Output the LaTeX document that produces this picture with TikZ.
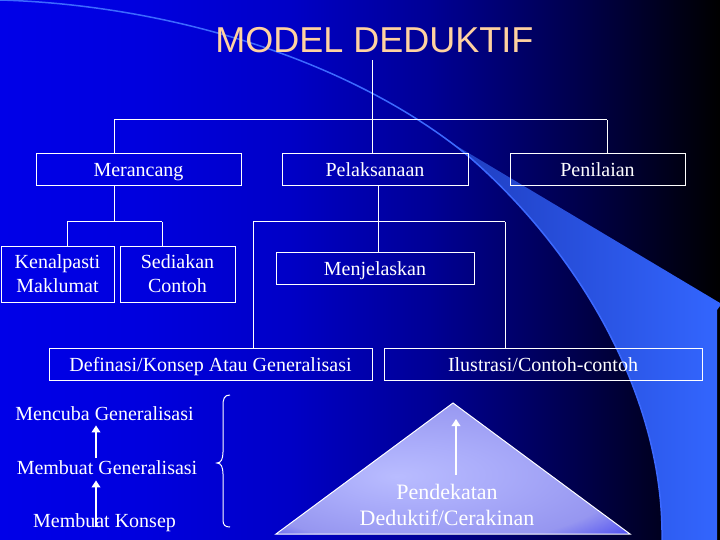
\documentclass[tikz,border=0pt]{standalone}
\usepackage{fontspec}
\setmainfont{Liberation Serif}
\newfontfamily\titlefont{Liberation Sans}
\usetikzlibrary{arrows.meta}
\definecolor{peach}{RGB}{255,210,160}
\definecolor{swthin}{RGB}{60,105,255}
\definecolor{swdark}{RGB}{30,60,190}
\definecolor{swlight}{RGB}{51,102,255}
\definecolor{triA}{RGB}{185,188,255}
\definecolor{triB}{RGB}{170,172,250}
\definecolor{triC}{RGB}{150,150,240}
\definecolor{triD}{RGB}{100,100,240}
\definecolor{triE}{RGB}{40,40,245}
\pgfdeclarehorizontalshading{bgshade}{100bp}{rgb(0bp)=(0,0,0.91); rgb(25bp)=(0,0,0.91); rgb(35bp)=(0,0,0.87); rgb(45bp)=(0,0,0.78); rgb(55bp)=(0,0,0.58); rgb(65bp)=(0,0,0.30); rgb(70bp)=(0,0,0.15); rgb(75bp)=(0,0,0); rgb(100bp)=(0,0,0)}
\pgfdeclareradialshading{trishade}{\pgfpoint{-8bp}{-3bp}}{color(0bp)=(triA); color(12bp)=(triB); color(28bp)=(triC); color(34bp)=(triD); color(40bp)=(triE); color(50bp)=(triE)}
\begin{document}
\begin{tikzpicture}[x=1pt,y=-1pt,
  conn/.style={draw=white, line width=1pt},
  box/.style={draw=white, line width=1pt, inner sep=0pt, text=white, align=center, font=\fontsize{20}{24}\selectfont},
  oneline/.style={text height=14pt, text depth=0pt},
  lbl/.style={text=white, inner sep=0pt, font=\fontsize{20}{24}\selectfont},
  arr/.style={draw=white, line width=2.8pt, -{Triangle[length=7pt,width=8.5pt]}}]
\useasboundingbox (0,0) rectangle (720,540);
\shade[shading=bgshade] (0,0) rectangle (720,540);
% decorative swoosh
\shade[left color=swdark, right color=swlight] (445,139) -- (720,303) -- (720,306) -- (717,310) -- (717,540) -- (662,540) .. controls (664,390) and (572,245) .. (467,155) -- cycle;
\draw[swthin, line width=1.5pt] (0,0) .. controls (170,5) and (350,60) .. (467,155) .. controls (572,245) and (664,390) .. (662,540);
% title
\node[font=\titlefont\fontsize{36}{40}\selectfont, text=peach, inner sep=0pt, outer ysep=7pt, anchor=base] (title) at (374.5,53) {MODEL DEDUKTIF};
% boxes
\node[box, oneline, minimum width=205pt, minimum height=32pt] (mer) at (138.5,170) {Merancang};
\node[box, oneline, minimum width=186pt, minimum height=32pt] (pel) at (375,170) {Pelaksanaan};
\node[box, oneline, minimum width=175pt, minimum height=32pt] (pen) at (597.5,170) {Penilaian};
\node[box, minimum width=113pt, minimum height=56pt] (ken) at (57.5,274) {Kenalpasti\\Maklumat};
\node[box, minimum width=115pt, minimum height=56pt] (sed) at (177.5,274) {Sediakan\\Contoh};
\node[box, oneline, minimum width=198pt, minimum height=32pt] (men) at (375,268) {Menjelaskan};
\node[box, oneline, minimum width=323pt, minimum height=32pt] (def) at (210.5,364) {Definasi/Konsep Atau Generalisasi};
\node[box, oneline, minimum width=318pt, minimum height=32pt] (ilu) at (543,364) {Ilustrasi/Contoh-contoh};
% tree connectors
\coordinate (jt) at (372,120);
\coordinate (jl) at (114,120);
\coordinate (jr) at (607,120);
\draw[conn] (title.south -| jt) -- (jt);
\draw[conn] (jl) -- (jr);
\draw[conn] (jl) -- (jl |- mer.north);
\draw[conn] (jt) -- (jt |- pel.north);
\draw[conn] (jr) -- (jr |- pen.north);
\coordinate (jm) at (114,222);
\coordinate (jm1) at (67,222);
\coordinate (jm2) at (162,222);
\draw[conn] (mer.south -| jm) -- (jm);
\draw[conn] (jm1) -- (jm2);
\draw[conn] (jm1) -- (jm1 |- ken.north);
\draw[conn] (jm2) -- (jm2 |- sed.north);
\coordinate (jp) at (378,222);
\coordinate (jp1) at (253,222);
\coordinate (jp2) at (505,222);
\draw[conn] (pel.south -| jp) -- (jp |- men.north);
\draw[conn] (jp1) -- (jp2);
\draw[conn] (jp1) -- (jp1 |- def.north);
\draw[conn] (jp2) -- (jp2 |- ilu.north);
% left column
\node[lbl, anchor=base] (mc) at (104.5,420) {Mencuba Generalisasi};
\node[lbl, anchor=base] (mg) at (107,474) {Membuat Generalisasi};
\node[lbl, anchor=base] (mk) at (104.5,527) {Membuat Konsep};
\coordinate (ax) at (96,0);
\draw[arr, shorten <=1.7pt, shorten >=5pt] (mg.north -| ax) -- (mc.south -| ax);
\draw[arr, shorten >=6pt] (mk.base -| ax) -- (mg.south -| ax);
% brace
\draw[white, line width=1pt] (230,395) .. controls (224,395) and (223,399) .. (223,406) -- (223,452) .. controls (223,459) and (221,463) .. (217,463) .. controls (221,463) and (223,467) .. (223,474) -- (223,520) .. controls (223,525) and (225,527) .. (230,527);
% triangle
\coordinate (ta) at (453,403);
\coordinate (tl) at (276,534);
\coordinate (tr) at (630,534);
\shadedraw[shading=trishade, draw=white, line width=1pt] (ta) -- (tr) -- (tl) -- cycle;
\node[lbl, font=\fontsize{22}{26}\selectfont, anchor=north, align=center] (pend) at (447,484) {Pendekatan\\Deduktif/Cerakinan};
\coordinate (ptip) at (456,419);
\draw[arr, shorten <=9pt] (pend.north -| ptip) -- (ptip);
\end{tikzpicture}
\end{document}
